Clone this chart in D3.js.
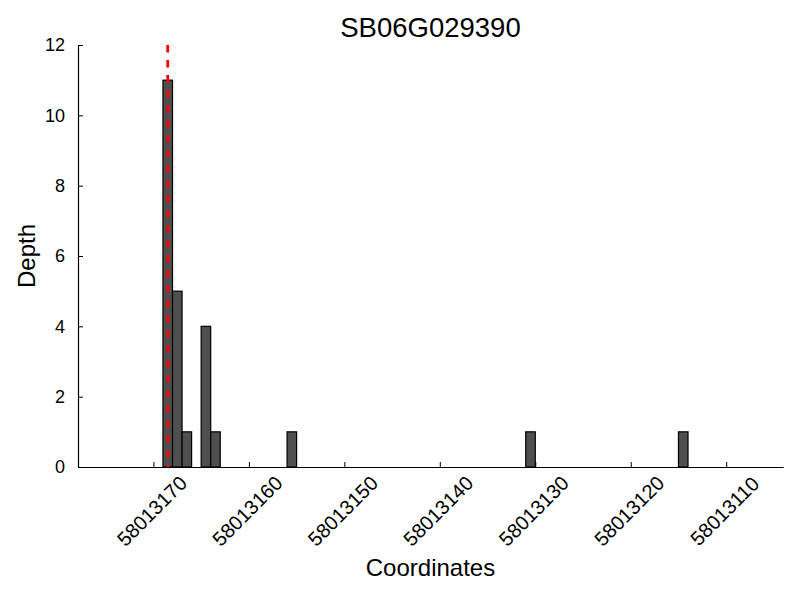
<!DOCTYPE html>
<html>
<head>
<meta charset="utf-8">
<script src="https://cdn.jsdelivr.net/npm/d3@7"></script>
<style>
  html, body { margin: 0; padding: 0; background: #fff; }
  text { font-family: "Liberation Sans", Arial, Helvetica, sans-serif; fill: #000; }
</style>
</head>
<body>
<svg id="chart" width="800" height="600"></svg>
<script>
// ---- data ----
const title = "SB06G029390";
const xLabel = "Coordinates";
const yLabel = "Depth";
const binStarts = [58013168, 58013167, 58013166, 58013164, 58013163, 58013155, 58013130, 58013114];
const depths    = [11, 5, 1, 4, 1, 1, 1, 1];
const xTicks = [58013170, 58013160, 58013150, 58013140, 58013130, 58013120, 58013110];
const yTicks = [0, 2, 4, 6, 8, 10, 12];
const markerPos = 58013168.5;
const xDomain = [58013177.9, 58013104.05];
const yDomain = [0, 12];

// ---- layout ----
const svg = d3.select("#chart");
const plotLeft = 78, plotRight = 783, plotTop = 45, plotBottom = 467;

const x = d3.scaleLinear().domain(xDomain).range([plotLeft, plotRight]);
const y = d3.scaleLinear().domain(yDomain).range([plotBottom, plotTop]);

const data = binStarts.map((s, i) => ({ s, d: depths[i] }));

// bars
svg.append("g").selectAll("rect").data(data).enter().append("rect")
  .attr("x", d => x(d.s + 1))
  .attr("y", d => y(d.d))
  .attr("width", d => x(d.s) - x(d.s + 1))
  .attr("height", d => y(0) - y(d.d))
  .attr("fill", "#4f4f4f")
  .attr("stroke", "#000")
  .attr("stroke-width", 1.2);

// red dashed marker
svg.append("line")
  .attr("x1", x(markerPos)).attr("x2", x(markerPos))
  .attr("y1", y(12)).attr("y2", y(0))
  .attr("stroke", "#ff0000")
  .attr("stroke-width", 2.8)
  .attr("stroke-dasharray", "7.5,7.5");

// x axis
const gx = svg.append("g").attr("transform", `translate(0,${plotBottom})`)
  .call(d3.axisBottom(x).tickValues(xTicks).tickSizeInner(-5).tickSizeOuter(0).tickFormat(d3.format("d")));
gx.select(".domain").attr("stroke", "#000").attr("stroke-width", 1.2);
gx.selectAll(".tick line").attr("stroke", "#000");
gx.selectAll(".tick text")
  .attr("font-size", 20)
  .attr("text-anchor", "middle")
  .attr("dy", "0.35em")
  .attr("y", 0)
  .attr("transform", "translate(-2,44) rotate(-45)");

// y axis
const gy = svg.append("g").attr("transform", `translate(${plotLeft},0)`)
  .call(d3.axisLeft(y).tickValues(yTicks).tickSizeInner(-5).tickSizeOuter(0).tickPadding(13));
gy.select(".domain").attr("stroke", "#000").attr("stroke-width", 1.2);
gy.selectAll(".tick line").attr("stroke", "#000");
gy.selectAll(".tick text").attr("font-size", 18);

// title
svg.append("text")
  .attr("x", (plotLeft + plotRight) / 2).attr("y", 37)
  .attr("text-anchor", "middle")
  .attr("font-size", 27.5)
  .text(title);

// x label
svg.append("text")
  .attr("x", (plotLeft + plotRight) / 2).attr("y", 576)
  .attr("text-anchor", "middle")
  .attr("font-size", 24)
  .text(xLabel);

// y label
svg.append("text")
  .attr("transform", `translate(35,${(plotTop + plotBottom) / 2}) rotate(-90)`)
  .attr("text-anchor", "middle")
  .attr("font-size", 24)
  .text(yLabel);
</script>
</body>
</html>
